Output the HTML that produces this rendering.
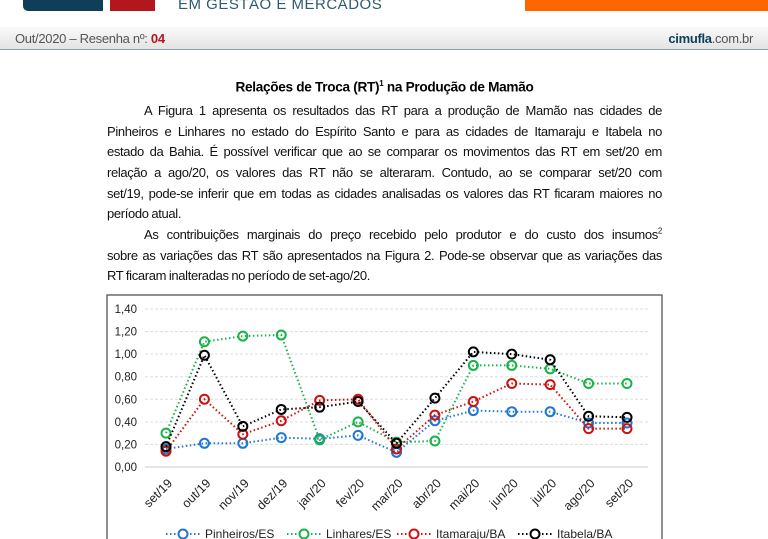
<!DOCTYPE html>
<html><head><meta charset="utf-8">
<style>
body{margin:0;width:768px;height:539px;overflow:hidden;background:#fff;font-family:"Liberation Sans",sans-serif;position:relative}
.abs{position:absolute}
.ln{position:absolute;left:107px;width:555px;font-size:13px;letter-spacing:-0.35px;word-spacing:-0.5px;color:#111;text-align:justify;text-align-last:justify;white-space:nowrap;line-height:16px}
.ln.last{text-align-last:left}
</style></head><body>
<div class="abs" style="left:23px;top:0;width:80px;height:11px;background:#0f3e5a;border-radius:0 0 0 5px"></div>
<div class="abs" style="left:110px;top:0;width:45px;height:11px;background:#b3171d"></div>
<div class="abs" style="left:178px;top:-4px;font-size:15px;color:#2d5a70;letter-spacing:0.5px">EM GESTÃO E MERCADOS</div>
<div class="abs" style="left:525px;top:0;width:243px;height:11px;background:#ff6600"></div>
<div class="abs" style="left:0;top:27px;width:768px;height:22px;background:linear-gradient(#fafafa,#e4e4e4);border-bottom:1.5px solid #8aa0ad"></div>
<div class="abs" style="left:15px;top:31px;font-size:13px;color:#555;letter-spacing:-0.3px">Out/2020 – Resenha nº: <b style="color:#b3171d">04</b></div>
<div class="abs" style="right:15px;top:31px;font-size:13px;color:#555;letter-spacing:-0.3px"><b style="color:#0f3e5a">cimufla</b>.com.br</div>
<div class="abs" style="left:107px;width:555px;top:79px;text-align:center;font-size:13.6px;font-weight:bold;letter-spacing:-0.3px">Relações de Troca (RT)<sup style="font-size:8px">1</sup> na Produção de Mamão</div>
<div>
<div class="ln" style="top:103px;padding-left:37px;width:518px">A Figura 1 apresenta os resultados das RT para a produção de Mamão nas cidades de</div>
<div class="ln" style="top:124px">Pinheiros e Linhares no estado do Espírito Santo e para as cidades de Itamaraju e Itabela no</div>
<div class="ln" style="top:144px">estado da Bahia. É possível verificar que ao se comparar os movimentos das RT em set/20 em</div>
<div class="ln" style="top:165px">relação a ago/20, os valores das RT não se alteraram. Contudo, ao se comparar set/20 com</div>
<div class="ln" style="top:186px">set/19, pode-se inferir que em todas as cidades analisadas os valores das RT ficaram maiores no</div>
<div class="ln last" style="top:206px">período atual.</div>
</div>
<div>
<div class="ln" style="top:227px;padding-left:37px;width:518px">As contribuições marginais do preço recebido pelo produtor e do custo dos insumos<sup style="font-size:8px;line-height:0">2</sup></div>
<div class="ln" style="top:248px">sobre as variações das RT são apresentados na Figura 2. Pode-se observar que as variações das</div>
<div class="ln last" style="top:268px">RT ficaram inalteradas no período de set-ago/20.</div>
</div>
<svg class="abs" style="left:0;top:0" width="768" height="539">
<rect x="107" y="295" width="555" height="260" fill="none" stroke="#555" stroke-width="1.3"/>
<g id="grid"></g><g id="series"></g><g id="legend"></g>
</svg>
<script>
const categories=["set/19","out/19","nov/19","dez/19","jan/20","fev/20","mar/20","abr/20","mai/20","jun/20","jul/20","ago/20","set/20"];
const yTicks=[0,0.2,0.4,0.6,0.8,1.0,1.2,1.4];
const pinheiros=[0.16,0.21,0.21,0.26,0.25,0.28,0.13,0.41,0.50,0.49,0.49,0.39,0.39];
const linhares=[0.30,1.11,1.16,1.17,0.24,0.40,0.22,0.23,0.90,0.90,0.87,0.74,0.74];
const itamaraju=[0.14,0.60,0.29,0.41,0.59,0.60,0.16,0.46,0.58,0.74,0.73,0.34,0.34];
const itabela=[0.18,0.99,0.36,0.51,0.53,0.58,0.21,0.61,1.02,1.00,0.95,0.45,0.44];
const seriesNames=["Pinheiros/ES","Linhares/ES","Itamaraju/BA","Itabela/BA"];
const NS="http://www.w3.org/2000/svg";
const x=i=>166+i*(461/(categories.length-1));
const y=v=>467-v*(158/1.4);
function mk(t,a,p){const e=document.createElementNS(NS,t);for(const k in a)e.setAttribute(k,a[k]);p.appendChild(e);return e;}
const grid=document.getElementById('grid');
yTicks.forEach(v=>{
  const l=mk('line',{x1:145,x2:648,y1:y(v),y2:y(v),stroke:v===0?'#ccc':'#ddd','stroke-dasharray':v===0?'':'3,2'},grid);
  
  
  const t=mk('text',{x:137,y:y(v)+4,'text-anchor':'end','font-size':11.5,fill:'#222'},grid);
  t.textContent=v.toFixed(2).replace('.',',');
  
  
});
categories.forEach((c,i)=>{
  const t=mk('text',{x:x(i)+7,y:484,'text-anchor':'end','font-size':12.5,fill:'#222',transform:`rotate(-45 ${x(i)+7} 484)`},grid);
  t.textContent=c;
  
  
});
const data=[pinheiros,linhares,itamaraju,itabela];
const colors=["#1f77d0","#19b34a","#d01010","#000"];
const sg=document.getElementById('series');
data.forEach((d,s)=>{
  const p=mk('polyline',{points:d.map((v,i)=>x(i)+','+y(v)).join(' '),fill:'none',stroke:colors[s],'stroke-width':2,'stroke-dasharray':'1.5,2.5'},sg);
  
  
  d.forEach((v,i)=>{
    const c=mk('circle',{cx:x(i),cy:y(v),r:4.5,fill:'none',stroke:colors[s],'stroke-width':2},sg);
    
    
  });
});
const lg=document.getElementById('legend');
const lx=[166,287,397,518];
seriesNames.forEach((n,s)=>{
  const g=mk('g',{},lg);
  
  
  mk('line',{x1:lx[s],x2:lx[s]+34,y1:534,y2:534,stroke:colors[s],'stroke-width':2,'stroke-dasharray':'1.5,2.5'},g);
  mk('circle',{cx:lx[s]+17,cy:534,r:4.5,fill:'#fff',stroke:colors[s],'stroke-width':2},g);
  const t=mk('text',{x:lx[s]+39,y:538,'font-size':12,fill:'#222'},g);
  t.textContent=n;
});
</script>
</body></html>
